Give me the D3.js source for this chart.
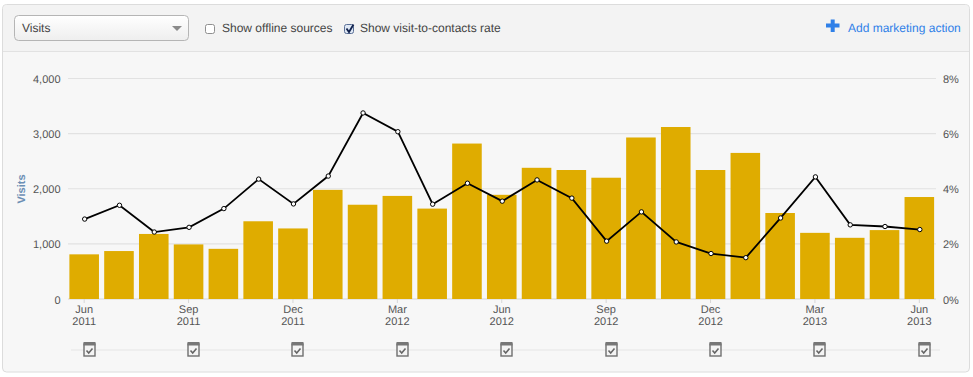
<!DOCTYPE html>
<html>
<head>
<meta charset="utf-8">
<script src="https://cdn.jsdelivr.net/npm/d3@7"></script>
<style>
    html, body { margin: 0; padding: 0; background: #fff; }
    svg { display: block; font-family: "Liberation Sans", Arial, sans-serif; text-rendering: geometricPrecision; }
    .axis path { display: none; }
    .axis text { fill: #555; font-size: 11px; }
</style>
</head>
<body>
<div id="chart"></div>
<script>
const months = ['Jun 2011', 'Jul 2011', 'Aug 2011', 'Sep 2011', 'Oct 2011', 'Nov 2011', 'Dec 2011',
    'Jan 2012', 'Feb 2012', 'Mar 2012', 'Apr 2012', 'May 2012', 'Jun 2012', 'Jul 2012', 'Aug 2012',
    'Sep 2012', 'Oct 2012', 'Nov 2012', 'Dec 2012', 'Jan 2013', 'Feb 2013', 'Mar 2013', 'Apr 2013',
    'May 2013', 'Jun 2013'];
const visits = [810, 870, 1180, 990, 910, 1410, 1280, 1980, 1710, 1870, 1640, 2820, 1890, 2380, 2340,
    2200, 2930, 3120, 2340, 2650, 1560, 1200, 1110, 1250, 1850];
const rate = [2.9, 3.4, 2.43, 2.6, 3.28, 4.35, 3.45, 4.46, 6.75, 6.07, 3.44, 4.2, 3.55, 4.32, 3.66,
    2.1, 3.16, 2.07, 1.65, 1.5, 2.94, 4.43, 2.69, 2.63, 2.52];
const tickMonths = ['Jun 2011', 'Sep 2011', 'Dec 2011', 'Mar 2012', 'Jun 2012', 'Sep 2012', 'Dec 2012',
    'Mar 2013', 'Jun 2013'];
const visitTicks = [0, 1000, 2000, 3000, 4000];
const rateTicks = [0, 2, 4, 6, 8];

const width = 973, height = 377;
const margin = { top: 78.5, bottom: 78, left: 68, right: 37 };
const blue = '#2f80e8';

const svg = d3.select('#chart').append('svg')
    .attr('width', width)
    .attr('height', height);

// Panel
svg.append('rect')
    .attr('x', 2.5).attr('y', 4.5)
    .attr('width', 967).attr('height', 367.5)
    .attr('rx', 4)
    .attr('fill', '#f7f7f7')
    .attr('stroke', '#dcdcdc');
svg.append('path')
    .attr('d', 'M3,51.5V9a4,4 0 0 1 4,-4H965a4,4 0 0 1 4,4V51.5Z')
    .attr('fill', '#f3f3f3');
svg.append('line')
    .attr('x1', 3).attr('x2', 969)
    .attr('y1', 51.5).attr('y2', 51.5)
    .attr('stroke', '#e2e2e2');

// Scales
const scaleX = d3.scaleBand()
    .domain(months)
    .range([margin.left, width - margin.right - 0.5])
    .paddingInner(0.15)
    .paddingOuter(0.04);
const scaleY = d3.scaleLinear()
    .domain([0, 4000])
    .range([height - margin.bottom, margin.top]);
const scaleRate = d3.scaleLinear()
    .domain([0, 8])
    .range([height - margin.bottom, margin.top]);
const centerX = d => scaleX(d) + scaleX.bandwidth() / 2 + 0.5;

// Gridlines
svg.append('g').selectAll('line')
    .data(visitTicks)
    .join('line')
    .attr('x1', margin.left)
    .attr('x2', width - margin.right)
    .attr('y1', d => scaleY(d))
    .attr('y2', d => scaleY(d))
    .attr('stroke', d => d === 0 ? '#d6d6d6' : '#e2e2e2')
    .attr('stroke-width', 1.2);

// Bars
svg.append('g').selectAll('rect')
    .data(months)
    .join('rect')
    .attr('x', d => scaleX(d))
    .attr('y', (d, i) => scaleY(visits[i]))
    .attr('width', scaleX.bandwidth())
    .attr('height', (d, i) => scaleY(0) - scaleY(visits[i]))
    .attr('fill', '#dfac00');

// Rate line
const line = d3.line()
    .x((d, i) => centerX(months[i]))
    .y(d => scaleRate(d));
svg.append('path')
    .datum(rate)
    .attr('d', line)
    .attr('fill', 'none')
    .attr('stroke', '#000')
    .attr('stroke-width', 1.8);
svg.append('g').selectAll('circle')
    .data(rate)
    .join('circle')
    .attr('cx', (d, i) => centerX(months[i]))
    .attr('cy', d => scaleRate(d))
    .attr('r', 2.2)
    .attr('fill', '#fff')
    .attr('stroke', '#000')
    .attr('stroke-width', 1);

// Axes
const axisLeft = d3.axisLeft(scaleY)
    .tickValues(visitTicks)
    .tickSize(0)
    .tickPadding(7.5)
    .tickFormat(d3.format(','));
svg.append('g')
    .attr('class', 'axis')
    .attr('transform', `translate(${margin.left}, 0.5)`)
    .call(axisLeft);

const axisRight = d3.axisRight(scaleRate)
    .tickValues(rateTicks)
    .tickSize(0)
    .tickPadding(7)
    .tickFormat(d => d + '%');
svg.append('g')
    .attr('class', 'axis')
    .attr('transform', `translate(${width - margin.right}, 0.5)`)
    .call(axisRight);

const axisBottom = d3.axisBottom(scaleX)
    .tickValues(tickMonths)
    .tickSize(4)
    .tickPadding(3)
    .tickFormat('');
const xAxis = svg.append('g')
    .attr('class', 'axis')
    .attr('transform', `translate(0, ${height - margin.bottom})`)
    .call(axisBottom);
xAxis.selectAll('.tick line').attr('stroke', '#d6d6d6');
xAxis.selectAll('.tick text')
    .attr('y', 14)
    .selectAll('tspan')
    .data(d => d.split(' '))
    .join('tspan')
    .attr('x', 0)
    .attr('dy', (d, i) => i ? 12 : 0)
    .text(d => d);

svg.append('text')
    .attr('transform', 'translate(25, 189) rotate(-90)')
    .attr('text-anchor', 'middle')
    .style('font-size', '11px')
    .style('font-weight', 'bold')
    .attr('fill', '#6c8fb5')
    .text('Visits');

// Marketing action timeline
svg.append('line')
    .attr('x1', 71).attr('x2', 940)
    .attr('y1', 350).attr('y2', 350)
    .attr('stroke', '#ebebeb')
    .attr('stroke-width', 1.5);
const icons = svg.append('g').selectAll('g')
    .data(tickMonths)
    .join('g')
    .attr('transform', d => `translate(${Math.round(centerX(d)) + 4.5}, 349.5)`);
icons.append('rect')
    .attr('x', -5.5).attr('y', -5.5)
    .attr('width', 11).attr('height', 12)
    .attr('fill', '#f4f4f4')
    .attr('stroke', '#6f6f6f')
    .attr('stroke-width', 1.4);
icons.append('rect')
    .attr('x', -6).attr('y', -7.5)
    .attr('width', 12).attr('height', 3.5)
    .attr('fill', '#777');
icons.append('path')
    .attr('d', 'M-3,1L-0.8,3.5L3,-1')
    .attr('fill', 'none')
    .attr('stroke', '#666')
    .attr('stroke-width', 1.6);

// Header controls
const grad = svg.append('defs').append('linearGradient')
    .attr('id', 'selectBg')
    .attr('x1', 0).attr('x2', 0).attr('y1', 0).attr('y2', 1);
grad.append('stop').attr('offset', 0).attr('stop-color', '#ffffff');
grad.append('stop').attr('offset', 1).attr('stop-color', '#eeeeee');

svg.append('rect')
    .attr('x', 14.5).attr('y', 15.5)
    .attr('width', 174).attr('height', 25)
    .attr('rx', 4)
    .attr('fill', 'url(#selectBg)')
    .attr('stroke', '#b5b5b5');
svg.append('path')
    .attr('d', 'M172,26H182L177,31Z')
    .attr('fill', '#8a8a8a');

const label = (x, text, color) => svg.append('text')
    .attr('x', x).attr('y', 32)
    .attr('fill', color)
    .style('font-size', '12px')
    .text(text);

label(22, 'Visits', '#444');
label(222, 'Show offline sources', '#444');
label(360, 'Show visit-to-contacts rate', '#444');
label(848, 'Add marketing action', blue);

svg.append('rect')
    .attr('x', 205.5).attr('y', 24.5)
    .attr('width', 9).attr('height', 9)
    .attr('rx', 2)
    .attr('fill', '#fff')
    .attr('stroke', '#8f8f8f');
svg.append('rect')
    .attr('x', 344.5).attr('y', 24.5)
    .attr('width', 9).attr('height', 9)
    .attr('rx', 2)
    .attr('fill', '#dfe8f5')
    .attr('stroke', '#5a6f96');
svg.append('path')
    .attr('d', 'M346.5,28.5L349,32L353.5,24.5')
    .attr('fill', 'none')
    .attr('stroke', '#11224d')
    .attr('stroke-width', 1.8);

svg.append('path')
    .attr('d', 'M826,25.5H839.5M832.7,19.5V32')
    .attr('stroke', blue)
    .attr('stroke-width', 4)
    .attr('fill', 'none');
</script>
</body>
</html>
